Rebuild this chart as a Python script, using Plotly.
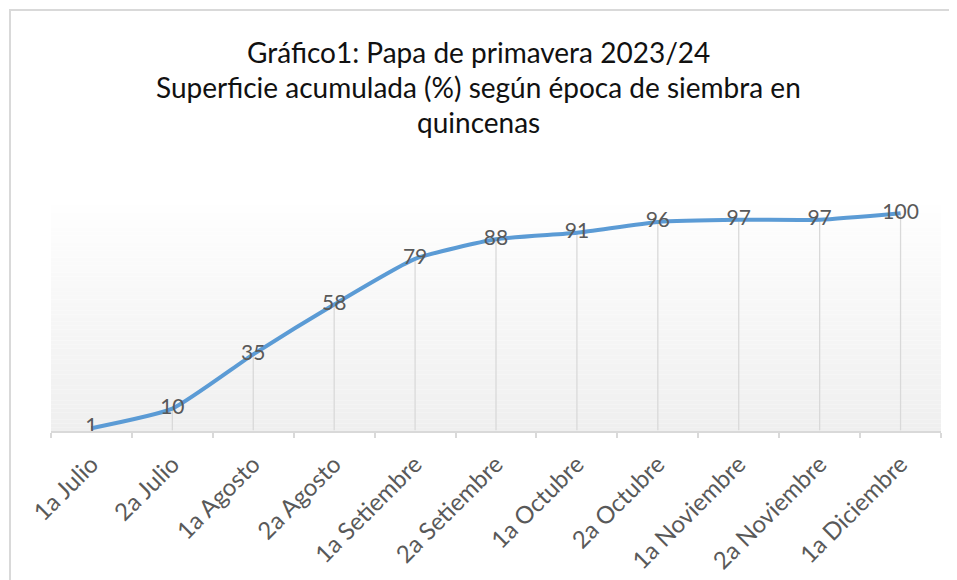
import plotly.graph_objects as go

categories = ["1a Julio", "2a Julio", "1a Agosto", "2a Agosto", "1a Setiembre",
              "2a Setiembre", "1a Octubre", "2a Octubre", "1a Noviembre",
              "2a Noviembre", "1a Diciembre"]
values = [1, 10, 35, 58, 79, 88, 91, 96, 97, 97, 100]
title_lines = ["Gráfico1: Papa de primavera 2023/24",
               "Superficie acumulada (%) según época de siembra en",
               "quincenas"]

OFF = 8  # the page body adds an 8px margin
W, H = 957 - OFF, 580 - OFF
L, R, T, B = 51 - OFF, 941 - OFF, 205 - OFF, 431 - OFF
FONT = "Lato, 'Open Sans', sans-serif"

fig = go.Figure()

# drop lines
dx, dy = [], []
for c, v in zip(categories, values):
    dx += [c, c, None]
    dy += [0, v, None]
fig.add_trace(go.Scatter(x=dx, y=dy, mode="lines",
                         line=dict(color="#d9d9d9", width=1.3),
                         hoverinfo="skip", showlegend=False))

fig.add_trace(go.Scatter(x=categories, y=values, mode="lines+text",
                         line=dict(color="#5b9bd5", width=4, shape="spline", smoothing=0.5),
                         text=[str(v) for v in values], textposition="middle center",
                         textfont=dict(family=FONT, size=21, color="#595959"),
                         showlegend=False, cliponaxis=False))

def px2x(px):
    return (px - OFF - L) / (R - L)

def py2y(py):
    return (B - (py - OFF)) / (B - T)

shapes = []
# gradient background of plot area
n = 60
for i in range(n):
    f = i / (n - 1)
    g = round(254 - (254 - 239) * f)
    col = f"rgb({g},{g},{g})"
    shapes.append(dict(type="rect", xref="paper", yref="paper",
                       x0=0, x1=1, y0=1 - (i + 1) / n, y1=1 - i / n,
                       fillcolor=col, line=dict(width=0), layer="below"))
# chart border
shapes.append(dict(type="rect", xref="paper", yref="paper",
                   x0=px2x(10), x1=px2x(975), y0=py2y(600), y1=py2y(10),
                   line=dict(color="#d9d9d9", width=2), fillcolor="rgba(0,0,0,0)"))

annotations = []
for i, t in enumerate(title_lines):
    annotations.append(dict(text=t, xref="paper", yref="paper",
                            x=px2x(478), y=py2y(52 + 35 * i),
                            xanchor="center", yanchor="middle", showarrow=False,
                            font=dict(family=FONT, size=28, color="#111111")))

fig.update_layout(
    width=W, height=H,
    margin=dict(l=L, r=W - R, t=T, b=H - B, autoexpand=False),
    paper_bgcolor="white", plot_bgcolor="rgba(0,0,0,0)",
    shapes=shapes, annotations=annotations,
    xaxis=dict(type="category", tickson="boundaries", ticks="outside", ticklen=5,
               tickcolor="#d9d9d9", tickwidth=1.5, showline=True, linecolor="#d9d9d9",
               linewidth=1.5, showgrid=False, tickangle=-45, ticklabelstandoff=8,
               automargin=False,
               tickfont=dict(family=FONT, size=24, color="#595959"),
               range=[-0.5, len(categories) - 0.5]),
    yaxis=dict(range=[-0.3, 103.8], visible=False, showgrid=False, zeroline=False,
               automargin=False),
)

fig.write_html("out.html")
